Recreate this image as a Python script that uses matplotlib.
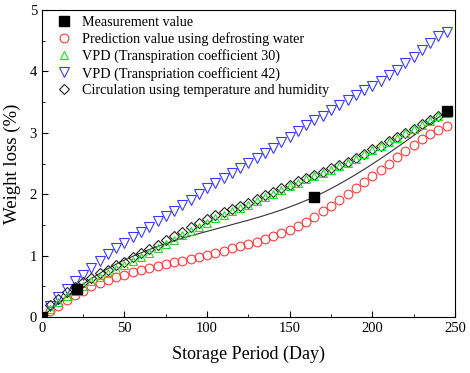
import numpy as np
import matplotlib
matplotlib.use("Agg")
import matplotlib.pyplot as plt
from matplotlib.ticker import MultipleLocator

plt.rcParams['font.family'] = ['Liberation Serif', 'DejaVu Serif']
plt.rcParams['mathtext.fontset'] = 'stix'

# Measured values
meas_days = [0, 21, 165, 245]
meas_vals = [0.0, 0.46, 1.96, 3.35]

days = list(range(5, 250, 5))

pred_defrost = [0.10, 0.18, 0.27, 0.36, 0.43, 0.50, 0.55, 0.60, 0.65, 0.69,
                0.73, 0.77, 0.80, 0.83, 0.86, 0.89, 0.92, 0.95, 0.98, 1.01,
                1.05, 1.08, 1.12, 1.15, 1.19, 1.23, 1.27, 1.32, 1.37, 1.42,
                1.48, 1.55, 1.63, 1.72, 1.81, 1.91, 2.00, 2.10, 2.20, 2.30,
                2.40, 2.50, 2.61, 2.71, 2.81, 2.90, 2.98, 3.05, 3.11]

vpd30 = [0.13, 0.24, 0.34, 0.43, 0.51, 0.58, 0.65, 0.71, 0.78, 0.85,
         0.91, 0.98, 1.05, 1.12, 1.19, 1.26, 1.33, 1.40, 1.47, 1.54,
         1.61, 1.67, 1.72, 1.77, 1.83, 1.89, 1.95, 2.01, 2.07, 2.13,
         2.19, 2.25, 2.30, 2.35, 2.40, 2.46, 2.51, 2.58, 2.65, 2.72,
         2.78, 2.85, 2.92, 2.99, 3.06, 3.13, 3.20, 3.27, 3.33]

vpd42 = [0.18, 0.32, 0.45, 0.58, 0.69, 0.80, 0.91, 1.02, 1.12, 1.21,
         1.30, 1.39, 1.47, 1.56, 1.65, 1.73, 1.82, 1.91, 2.01, 2.10,
         2.19, 2.27, 2.35, 2.43, 2.51, 2.59, 2.67, 2.76, 2.85, 2.94,
         3.03, 3.12, 3.21, 3.28, 3.37, 3.46, 3.54, 3.62, 3.70, 3.77,
         3.85, 3.94, 4.03, 4.13, 4.23, 4.35, 4.47, 4.57, 4.65]

circulation = [0.20, 0.30, 0.40, 0.49, 0.57, 0.64, 0.71, 0.77, 0.84, 0.90,
               0.97, 1.04, 1.11, 1.18, 1.25, 1.32, 1.39, 1.46, 1.53, 1.60,
               1.66, 1.71, 1.76, 1.81, 1.86, 1.92, 1.98, 2.04, 2.10, 2.15,
               2.21, 2.27, 2.32, 2.37, 2.42, 2.47, 2.52, 2.59, 2.66, 2.73,
               2.79, 2.86, 2.93, 3.00, 3.07, 3.14, 3.21, 3.27, 3.34]


def natural_spline(x, y, xs):
    x = np.asarray(x, float); y = np.asarray(y, float)
    n = len(x)
    h = np.diff(x)
    A = np.zeros((n, n)); b = np.zeros(n)
    A[0, 0] = 1; A[-1, -1] = 1
    for i in range(1, n - 1):
        A[i, i - 1] = h[i - 1]
        A[i, i] = 2 * (h[i - 1] + h[i])
        A[i, i + 1] = h[i]
        b[i] = 6 * ((y[i + 1] - y[i]) / h[i] - (y[i] - y[i - 1]) / h[i - 1])
    M = np.linalg.solve(A, b)
    out = np.empty_like(xs)
    for k, xv in enumerate(xs):
        i = min(max(np.searchsorted(x, xv) - 1, 0), n - 2)
        t1 = x[i + 1] - xv; t0 = xv - x[i]
        out[k] = (M[i] * t1**3 + M[i + 1] * t0**3) / (6 * h[i]) \
            + (y[i] / h[i] - M[i] * h[i] / 6) * t1 \
            + (y[i + 1] / h[i] - M[i + 1] * h[i] / 6) * t0
    return out


fig = plt.figure(figsize=(4.7, 3.73), dpi=100)
ax = fig.add_axes([0.089, 0.150, 0.879, 0.823])

xs = np.linspace(meas_days[0], meas_days[-1], 300)
ax.plot(xs, natural_spline(meas_days, meas_vals, xs), color='#333333', lw=0.8, zorder=2)

ms = 6.3
mew = 0.8
ax.plot(days, pred_defrost, 'o', ms=ms, mfc='none', mec='#ff3b3b', mew=mew,
        label='Prediction value using defrosting water', zorder=3)
ax.plot(days, vpd30, '^', ms=ms, mfc='none', mec='#22dd22', mew=mew,
        label='VPD (Transpiration coefficient 30)', zorder=4)
ax.plot(days, vpd42, 'v', ms=ms + 0.5, mfc='none', mec='#3a3aff', mew=mew,
        label='VPD (Transpriation coefficient 42)', zorder=3)
ax.plot(days, circulation, 'D', ms=ms - 0.9, mfc='none', mec='#222222', mew=mew,
        label='Circulation using temperature and humidity', zorder=3)
h_meas, = ax.plot(meas_days, meas_vals, 's', ms=6.5, color='black',
                  label='Measurement value', zorder=5)

handles, labels = ax.get_legend_handles_labels()
order = [4, 0, 1, 2, 3]
ax.legend([handles[i] for i in order], [labels[i] for i in order],
          loc='upper left', frameon=False, fontsize=10.2, labelspacing=0.24,
          handletextpad=0.5, borderaxespad=0.0, handlelength=1.5,
          bbox_to_anchor=(0.015, 1.0))

ax.set_xlim(0, 250)
ax.set_ylim(0, 5)
ax.xaxis.set_major_locator(MultipleLocator(50))
ax.xaxis.set_minor_locator(MultipleLocator(25))
ax.yaxis.set_major_locator(MultipleLocator(1))
ax.yaxis.set_minor_locator(MultipleLocator(0.5))
ax.tick_params(which='both', direction='in', top=False, right=False, labelsize=10.5)
ax.tick_params(which='major', length=4)
ax.tick_params(which='minor', length=2.5)
ax.set_xlabel('Storage Period (Day)', fontsize=13, labelpad=8)
ax.set_ylabel('Weight loss (%)', fontsize=13.5, labelpad=6)

fig.savefig('out.png', dpi=100)
